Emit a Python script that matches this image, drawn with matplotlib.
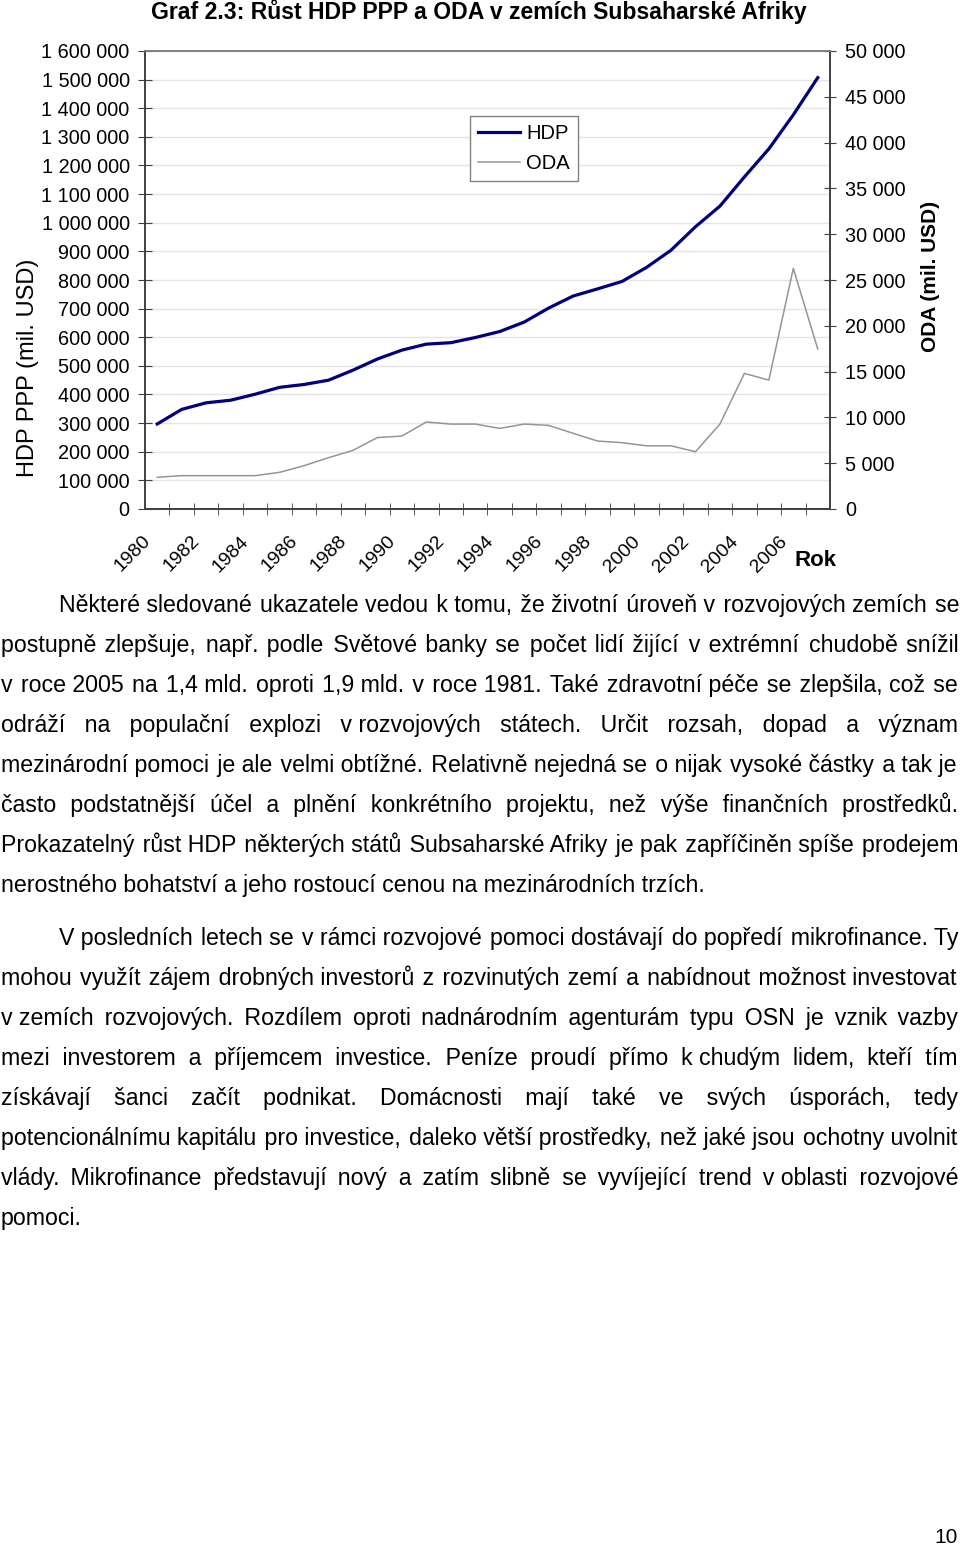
import matplotlib
matplotlib.use("Agg")
import matplotlib.pyplot as plt
import numpy as np
from itertools import product
from matplotlib.transforms import ScaledTranslation
from matplotlib.lines import Line2D

plt.rcParams['font.family'] = ['Liberation Sans', 'DejaVu Sans']

W, H = 960, 1547

years = list(range(1980, 2008))
hdp = [297000, 348000, 371000, 380000, 401000, 425000, 435000, 450000, 485000, 524000,
       555000, 576000, 581000, 599000, 620000, 653000, 702000, 744000, 769000, 795000,
       844000, 904000, 986000, 1058000, 1160000, 1258000, 1377000, 1507000]
oda = [3460, 3640, 3640, 3640, 3640, 4000, 4730, 5600, 6400, 7800,
       7960, 9500, 9270, 9270, 8800, 9270, 9130, 8260, 7420, 7240,
       6900, 6900, 6250, 9270, 14800, 14070, 26260, 17460]
label_years = list(range(1980, 2008, 2))
hdp_ticks = list(range(0, 1600001, 100000))
oda_ticks = list(range(0, 50001, 5000))

title = "Graf 2.3: Růst HDP PPP a ODA v zemích Subsaharské Afriky"

para1 = [
    "Některé sledované ukazatele vedou k tomu, že životní úroveň v rozvojových zemích se",
    "postupně zlepšuje, např. podle Světové banky se počet lidí žijící v extrémní chudobě snížil",
    "v roce 2005 na 1,4 mld. oproti 1,9 mld. v roce 1981. Také zdravotní péče se zlepšila, což se",
    "odráží na populační explozi v\u00a0rozvojových státech. Určit rozsah, dopad a význam",
    "mezinárodní pomoci je ale velmi obtížné. Relativně nejedná se o nijak vysoké částky a tak je",
    "často podstatnější účel a plnění konkrétního projektu, než výše finančních prostředků.",
    "Prokazatelný růst HDP některých států Subsaharské Afriky je pak zapříčiněn spíše prodejem",
    "nerostného bohatství a jeho rostoucí cenou na mezinárodních trzích.",
]
para2 = [
    "V posledních letech se v rámci rozvojové pomoci dostávají do popředí mikrofinance. Ty",
    "mohou využít zájem drobných investorů z rozvinutých zemí a nabídnout možnost investovat",
    "v\u00a0zemích rozvojových. Rozdílem oproti nadnárodním agenturám typu OSN je vznik vazby",
    "mezi investorem a příjemcem investice. Peníze proudí přímo k\u00a0chudým lidem, kteří tím",
    "získávají šanci začít podnikat. Domácnosti mají také ve svých úsporách, tedy",
    "potencionálnímu kapitálu pro investice, daleko větší prostředky, než jaké jsou ochotny uvolnit",
    "vlády. Mikrofinance představují nový a zatím slibně se vyvíjející trend v\u00a0oblasti rozvojové",
    "pomoci.",
]


def fx(x):
    return x / W


def fy(y):
    return 1 - y / H


def fmt(v):
    return f"{v:,.0f}".replace(",", " ")


fig = plt.figure(figsize=(W / 100, H / 100), dpi=100)
ax = fig.add_axes([fx(145), fy(509), (830 - 145) / W, (509 - 51) / H])
ax2 = ax.twinx()

ax.plot(years, hdp, color='#000080', lw=2.3, solid_joinstyle='round', label='HDP')
ax2.plot(years, oda, color='#959595', lw=1.1, label='ODA')

ax.set_xlim(1979.5, 2007.5)
ax.set_ylim(0, 1600000)
ax2.set_ylim(0, 50000)
ax.set_yticks(hdp_ticks)
ax.set_yticklabels([fmt(v) for v in hdp_ticks])
ax2.set_yticks(oda_ticks)
ax2.set_yticklabels([fmt(v) for v in oda_ticks])
ax.yaxis.grid(True, color='#e4e4e4', lw=1)
ax.set_axisbelow(True)

ax.set_xticks(label_years)
ax.set_xticklabels([str(y) for y in label_years], rotation=45, ha='right',
                   rotation_mode='anchor', fontsize=14)
ax.set_xticks(np.arange(1980.5, 2007.5, 1), minor=True)
ax.tick_params(axis='x', which='major', length=0, pad=17)
ax.tick_params(axis='x', which='minor', length=9, direction='inout', color='#404040')
shift = ScaledTranslation(-15 / 100, 0, fig.dpi_scale_trans)
for lab in ax.get_xticklabels():
    lab.set_transform(lab.get_transform() + shift)

ax.tick_params(axis='y', length=10, direction='inout', color='#404040', labelsize=14.3, pad=6)
ax2.tick_params(axis='y', length=8, direction='inout', color='#404040', labelsize=14.3, pad=7)

for a in (ax, ax2):
    for s in ('left', 'right', 'bottom'):
        a.spines[s].set_color('#404040')
        a.spines[s].set_linewidth(1.2)
    a.spines['top'].set_color('#808080')
    a.spines['top'].set_linewidth(1.2)

handles = [Line2D([], [], color='#000080', lw=2.3), Line2D([], [], color='#959595', lw=1.1)]
leg = fig.legend(handles, ['HDP', 'ODA'], loc='upper left',
                 bbox_to_anchor=(fx(470), fy(116)), fontsize=14.5, frameon=True,
                 fancybox=False, edgecolor='#808080', framealpha=1,
                 handlelength=2.1, handletextpad=0.3, labelspacing=0.55,
                 borderpad=0.4, borderaxespad=0)
leg.get_frame().set_linewidth(1)

fig.text(fx(479), fy(12), title, fontsize=16.6, fontweight='bold', ha='center', va='center')
fig.text(fx(28), fy(368), "HDP PPP (mil. USD)", fontsize=17, rotation=90,
         ha='center', va='center')
fig.text(fx(930), fy(276), "ODA (mil. USD)", fontsize=15, fontweight='bold',
         rotation=90, ha='center', va='center')
fig.text(fx(816), fy(560), "Rok", fontsize=16, fontweight='bold', ha='center', va='center')

# body text: one Text per line, justified by building each gap out of space characters
renderer = fig.canvas.get_renderer()
body_fs = 16.7


def text_width(s):
    t = fig.text(0, 0, s, fontsize=body_fs)
    wd = t.get_window_extent(renderer).width
    t.remove()
    return wd


# every gap made of 1-3 normal spaces plus thin / six-per-em / hair spaces
gap_options = []
for n_sp, n_th, n_si, n_ha in product(range(1, 4), range(3), range(3), range(4)):
    g = " " * n_sp + "\u2009" * n_th + "\u2006" * n_si + "\u200a" * n_ha
    gap_options.append(g)
base_w = text_width("aa")
gap_options = [(g, text_width("a" + g + "a") - base_w) for g in gap_options]
sp_w = text_width("a a") - base_w


def compose(words, extra):
    s, err = words[0], 0.0
    for w in words[1:]:
        want = sp_w + extra + err
        g, used = min(gap_options, key=lambda o: abs(o[1] - want))
        err = want - used
        s += g + w
    return s


def put_line(line, x0, x1, base, justify):
    words = line.split(" ")
    if justify and len(words) > 1:
        n = len(words) - 1
        extra = (x1 - x0 - text_width(line)) / n
        for _ in range(3):
            s = compose(words, extra)
            extra += (x1 - x0 - text_width(s)) / n
        line = s
    fig.text(fx(x0), fy(base), line, fontsize=body_fs, va='baseline', ha='left')


def put_para(lines, top_base):
    for i, line in enumerate(lines):
        x0 = 59 if i == 0 else 1
        put_line(line, x0, 958, top_base + 40 * i, i < len(lines) - 1)


put_para(para1, 612)
put_para(para2, 945)

fig.text(fx(958), fy(1543), "10", fontsize=15, ha='right', va='baseline')

fig.savefig("out.png", dpi=100)
